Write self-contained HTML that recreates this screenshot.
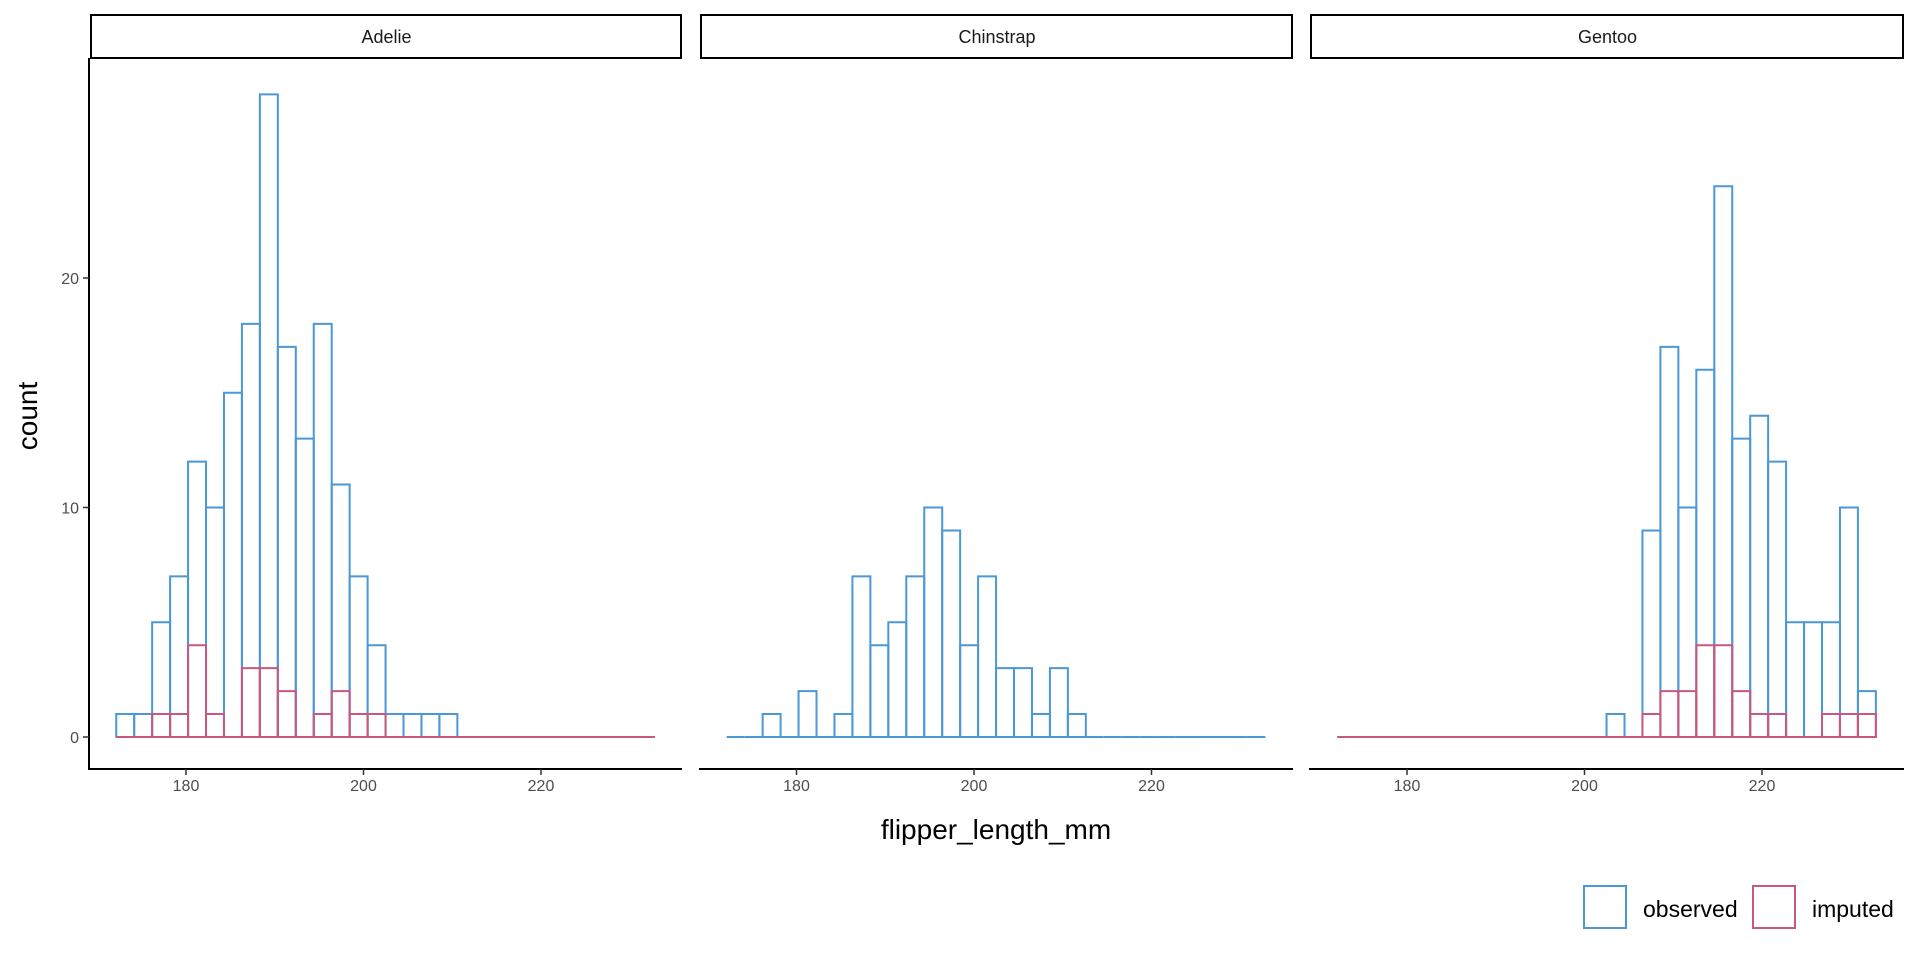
<!DOCTYPE html>
<html><head><meta charset="utf-8"><style>
html,body{margin:0;padding:0;background:#fff;}
svg{display:block;font-family:"Liberation Sans",sans-serif;}
</style></head><body>
<svg id="chart" width="1920" height="960" viewBox="0 0 1920 960"></svg>
<script>
const species = ["Adelie","Chinstrap","Gentoo"];
const binStart = 172.14;
const binWidth = 2.023;
const xTicks = [180,200,220];
const yTicks = [0,10,20];
const observedAdelie = [1,1,5,7,12,10,15,18,28,17,13,18,11,7,4,1,1,1,1,0,0,0,0,0,0,0,0,0,0,0];
const imputedAdelie = [0,0,1,1,4,1,0,3,3,2,0,1,2,1,1,0,0,0,0,0,0,0,0,0,0,0,0,0,0,0];
const observedChinstrap = [0,0,1,0,2,0,1,7,4,5,7,10,9,4,7,3,3,1,3,1,0,0,0,0,0,0,0,0,0,0];
const imputedChinstrap = null;
const observedGentoo = [0,0,0,0,0,0,0,0,0,0,0,0,0,0,0,1,0,9,17,10,16,24,13,14,12,5,5,5,10,2];
const imputedGentoo = [0,0,0,0,0,0,0,0,0,0,0,0,0,0,0,0,0,1,2,2,4,4,2,1,1,0,0,1,1,1];
const observedSeries = [observedAdelie, observedChinstrap, observedGentoo];
const imputedSeries = [imputedAdelie, imputedChinstrap, imputedGentoo];

const NS = "http://www.w3.org/2000/svg";
const svg = document.getElementById("chart");
function mk(tag, attrs, parent){
  const e = document.createElementNS(NS, tag);
  for (const k in attrs) e.setAttribute(k, attrs[k]);
  (parent||svg).appendChild(e);
  return e;
}
const BLUE = "#4a98d6", PINK = "#c9587f";
const y0 = 737, pxPerCount = 22.95;
function yScale(v){ return y0 - v * pxPerCount; }
const panelLeft = [89, 699, 1309], panelRight = [682, 1293, 1904];
function xScale(p, v){ return 186 + p * 610.5 + (v - 180) * 8.875; }

species.forEach((sp, p) => {
  const g = mk("g", {});
  
  
  const strip = mk("rect", {x: panelLeft[p] + 2, y: 15, width: panelRight[p] - panelLeft[p] - 3, height: 43, fill: "#fff", stroke: "#000", "stroke-width": 2}, g);
  
  
  const st = mk("text", {x: (panelLeft[p] + panelRight[p]) / 2 + 1, y: 43, "text-anchor": "middle", "font-size": 18, fill: "#1a1a1a"}, g);
  st.textContent = sp;
  
  
  [[observedSeries[p], BLUE, "observed"], [imputedSeries[p], PINK, "imputed"]].forEach(([arr, col, nm]) => {
    if (!arr) return;
    arr.forEach((c, i) => {
      const xa = xScale(p, binStart + i * binWidth), xb = xScale(p, binStart + (i + 1) * binWidth);
      const yt = yScale(c);
      const d = c > 0 ? `M${xa},${y0}L${xa},${yt}L${xb},${yt}L${xb},${y0}Z` : `M${xa},${y0}L${xb},${y0}`;
      const r = mk("path", {d: d, fill: "none", stroke: col, "stroke-width": 2}, g);
      
      
    });
  });
  const ax = mk("line", {x1: panelLeft[p], x2: panelRight[p], y1: 769, y2: 769, stroke: "#000", "stroke-width": 2}, g);
  
  
  xTicks.forEach(t => {
    const x = xScale(p, t);
    mk("line", {x1: x, x2: x, y1: 769, y2: 775, stroke: "#333", "stroke-width": 1.5}, g);
    const tl = mk("text", {x: x, y: 791, "text-anchor": "middle", "font-size": 16, fill: "#4d4d4d"}, g);
    tl.textContent = t;
    
    
  });
});
const ya = mk("line", {x1: 89, x2: 89, y1: 58, y2: 770, stroke: "#000", "stroke-width": 2});


yTicks.forEach(t => {
  const y = yScale(t);
  mk("line", {x1: 83, x2: 89, y1: y, y2: y, stroke: "#333", "stroke-width": 1.5});
  const tl = mk("text", {x: 79, y: y + 6, "text-anchor": "end", "font-size": 16, fill: "#4d4d4d"});
  tl.textContent = t;
  
  
});
const yt = mk("text", {x: 37, y: 416, "text-anchor": "middle", "font-size": 28, fill: "#000", transform: "rotate(-90 37 416)"});
yt.textContent = "count";


const xt = mk("text", {x: 996, y: 839, "text-anchor": "middle", "font-size": 28, fill: "#000"});
xt.textContent = "flipper_length_mm";


const lg = mk("g", {});


[["observed", BLUE, 1584, 1643], ["imputed", PINK, 1753, 1812]].forEach(([lab, col, bx, tx]) => {
  const b = mk("rect", {x: bx, y: 886, width: 42, height: 42, fill: "none", stroke: col, "stroke-width": 2}, lg);
  
  
  const t = mk("text", {x: tx, y: 917, "font-size": 23, fill: "#000"}, lg);
  t.textContent = lab;
  
  
});
</script>
</body></html>
